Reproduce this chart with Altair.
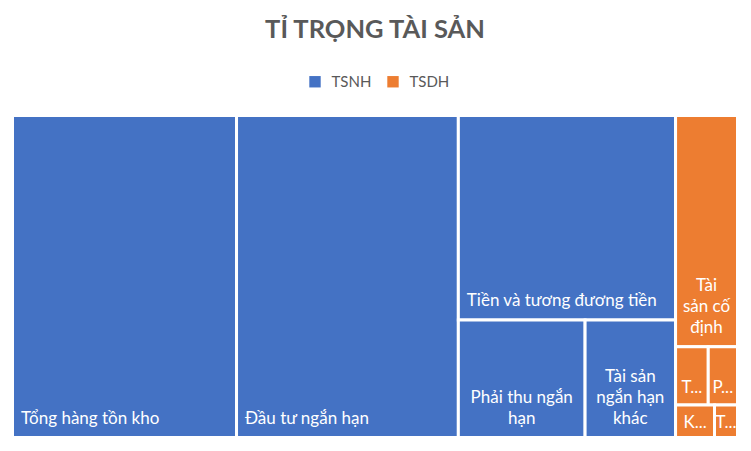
import altair as alt
import pandas as pd

# ---- data ----
groups = ["TSNH", "TSNH", "TSNH", "TSNH", "TSNH",
          "TSDH", "TSDH", "TSDH", "TSDH", "TSDH"]
names = ["Tổng hàng tồn kho", "Đầu tư ngắn hạn", "Tiền và tương đương tiền",
         "Phải thu ngắn hạn", "Tài sản ngắn hạn khác",
         "Tài sản cố định", "Tài sản dở dang dài hạn", "Phải thu dài hạn",
         "Khoản đầu tư dài hạn", "Tài sản dài hạn khác"]
labels = ["Tổng hàng tồn kho", "Đầu tư ngắn hạn", "Tiền và tương đương tiền",
          "Phải thu ngắn\nhạn", "Tài sản\nngắn hạn\nkhác",
          "Tài\nsản cố\nđịnh", "T...", "P...", "K...", "T..."]
values = [7213, 7142, 4442, 1489, 1063, 1432, 190, 170, 127, 75]
group_order = ["TSNH", "TSDH"]
group_colors = ["#4472C4", "#ED7D31"]

# ---- squarified treemap layout (computed from the values) ----
W, H = 725.0, 322.0
LINE_H = 21


def worst(row, side):
    s = sum(row)
    return max(max(side * side * r / (s * s), s * s / (side * side * r)) for r in row)


def squarify(vals, x, y, w, h):
    total = float(sum(vals))
    areas = [v * w * h / total for v in vals]
    out = []
    i = 0
    while i < len(areas):
        side = min(w, h)
        row = [areas[i]]
        j = i + 1
        while j < len(areas) and worst(row + [areas[j]], side) <= worst(row, side):
            row.append(areas[j])
            j += 1
        s = sum(row)
        if w >= h:
            cw = s / h
            yy = y
            for a in row:
                rh = a / cw
                out.append((x, yy, x + cw, yy + rh))
                yy += rh
            x += cw
            w -= cw
        else:
            rh = s / w
            xx = x
            for a in row:
                rw = a / rh
                out.append((xx, y, xx + rw, y + rh))
                xx += rw
            y += rh
            h -= rh
        i = j
    return out


group_totals = [sum(v for g, v in zip(groups, values) if g == grp) for grp in group_order]
group_rects = squarify(group_totals, 0.0, 0.0, W, H)

rows = []
for grp, (gx0, gy0, gx1, gy1) in zip(group_order, group_rects):
    idx = [k for k, g in enumerate(groups) if g == grp]
    sub = squarify([values[k] for k in idx], gx0, gy0, gx1 - gx0, gy1 - gy0)
    for k, (x0, y0, x1, y1) in zip(idx, sub):
        lab = labels[k]
        multi = "\n" in lab or "..." in lab
        n_lines = lab.count("\n") + 1
        hgt = y1 - y0
        margin = 14 if hgt > 80 else (12 if hgt > 45 else 10)
        rows.append(dict(
            group=groups[k], name=names[k], label=lab, value=values[k],
            x0=x0, y0=y0, x1=x1, y1=y1,
            kind="center" if multi else "left",
            lx=(x0 + x1) / 2 if multi else x0 + 8.5,
            ly=y1 - margin - (n_lines - 1) * LINE_H,
        ))

df = pd.DataFrame(rows)

FONT = "Lato"
xs = alt.Scale(domain=[0, W], nice=False, zero=False)
ys = alt.Scale(domain=[0, H], nice=False, zero=False, reverse=True)

base = alt.Chart(df)

rects = base.mark_rect(stroke="white", strokeWidth=3).encode(
    x=alt.X("x0:Q", scale=xs, axis=None),
    x2="x1:Q",
    y=alt.Y("y0:Q", scale=ys, axis=None),
    y2="y1:Q",
    color=alt.Color(
        "group:N",
        scale=alt.Scale(domain=group_order, range=group_colors),
        sort=group_order,
        legend=alt.Legend(
            title=None, orient="none", legendX=295, legendY=-41.5,
            direction="horizontal", symbolType="square", symbolSize=130,
            symbolStrokeWidth=0, labelFontSize=15, labelFont=FONT,
            labelColor="#595959", labelOffset=9, columnPadding=14, padding=0,
        ),
    ),
    tooltip=["name:N", "value:Q"],
)

text_left = base.transform_filter(alt.datum.kind == "left").mark_text(
    align="left", baseline="alphabetic", color="white", fontSize=17, font=FONT,
    lineBreak="\n", lineHeight=LINE_H,
).encode(
    x=alt.X("lx:Q", scale=xs, axis=None),
    y=alt.Y("ly:Q", scale=ys, axis=None),
    text="label:N",
)

text_center = base.transform_filter(alt.datum.kind == "center").mark_text(
    align="center", baseline="alphabetic", color="white", fontSize=17, font=FONT,
    lineBreak="\n", lineHeight=LINE_H,
).encode(
    x=alt.X("lx:Q", scale=xs, axis=None),
    y=alt.Y("ly:Q", scale=ys, axis=None),
    text="label:N",
)

chart = alt.layer(rects, text_left, text_center).properties(
    width=W, height=H,
    autosize="none",
    padding={"left": 4.5, "top": 107.5, "right": 0, "bottom": 0},
    title=alt.TitleParams(
        "TỈ TRỌNG TÀI SẢN", font=FONT, fontSize=25.5, fontWeight="bold",
        color="#595959", anchor="middle", offset=31,
    ),
).configure_view(stroke=None)

chart.save("out.html", embed_options={"renderer": "svg", "actions": False})
